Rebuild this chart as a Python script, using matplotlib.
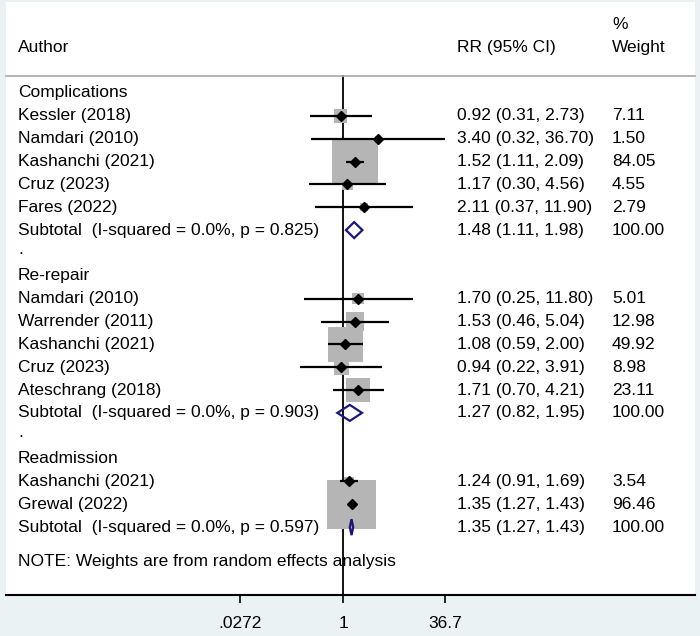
import numpy as np
import matplotlib
matplotlib.use("Agg")
import matplotlib.pyplot as plt
from matplotlib.patches import Polygon

plt.rcParams["font.family"] = ["Liberation Sans", "DejaVu Sans"]
plt.rcParams["font.size"] = 12.5

# subgroups
group_names = ["Complications", "Re-repair", "Readmission"]

comp_authors = ["Kessler (2018)", "Namdari (2010)", "Kashanchi (2021)", "Cruz (2023)", "Fares (2022)"]
comp_rr = [0.92, 3.40, 1.52, 1.17, 2.11]
comp_lo = [0.31, 0.32, 1.11, 0.30, 0.37]
comp_hi = [2.73, 36.70, 2.09, 4.56, 11.90]
comp_wt = [7.11, 1.50, 84.05, 4.55, 2.79]

rep_authors = ["Namdari (2010)", "Warrender (2011)", "Kashanchi (2021)", "Cruz (2023)", "Ateschrang (2018)"]
rep_rr = [1.70, 1.53, 1.08, 0.94, 1.71]
rep_lo = [0.25, 0.46, 0.59, 0.22, 0.70]
rep_hi = [11.80, 5.04, 2.00, 3.91, 4.21]
rep_wt = [5.01, 12.98, 49.92, 8.98, 23.11]

readm_authors = ["Kashanchi (2021)", "Grewal (2022)"]
readm_rr = [1.24, 1.35]
readm_lo = [0.91, 1.27]
readm_hi = [1.69, 1.43]
readm_wt = [3.54, 96.46]

sub_rr = [1.48, 1.27, 1.35]
sub_lo = [1.11, 0.82, 1.27]
sub_hi = [1.98, 1.95, 1.43]
sub_i2 = [0.0, 0.0, 0.0]
sub_p = [0.825, 0.903, 0.597]

xtick_vals = [0.0272, 1, 36.7]
xtick_labels = [".0272", "1", "36.7"]

groups = [
    (comp_authors, comp_rr, comp_lo, comp_hi, comp_wt),
    (rep_authors, rep_rr, rep_lo, rep_hi, rep_wt),
    (readm_authors, readm_rr, readm_lo, readm_hi, readm_wt),
]

W, H, DPI = 700, 636, 100
fig = plt.figure(figsize=(W / DPI, H / DPI), dpi=DPI, facecolor="#eaf2f3")
ax = fig.add_axes([6 / W, (H - 595) / H, (695 - 6) / W, (595 - 2) / H])
ax.set_facecolor("white")

# log scale: 1 at x=343 px, 65.5 px per decade
px_dec = 65.5
ax.set_xscale("log")
ax.set_xlim(10 ** ((6 - 343) / px_dec), 10 ** ((695 - 343) / px_dec))
row_px = 22.85
ax.set_ylim((595 - 93) / row_px, (2 - 93) / row_px)

col_author = 18 / W
col_rr = 457 / W
col_wt = 612 / W
tr = ax.get_yaxis_transform()  # x in axes coords, y in data
txt = ax.get_xaxis_transform()
xt = matplotlib.transforms.blended_transform_factory(fig.transFigure, ax.transData)

def label(x, y, s, **kw):
    ax.text(x, y, s, transform=xt, va="center", ha="left", color="black", **kw)

# header
label(col_author, -2.0, "Author")
label(col_rr, -2.0, "RR (95% CI)")
label(col_wt, -2.0, "Weight")
label(col_wt, -3.0, "%")
ax.plot([0, 1], [-0.75, -0.75], transform=tr, color="#a8a8a8", lw=1.2, clip_on=False)

# reference line at 1
ax.plot([1, 1], [-0.75, 22], color="black", lw=1.3, zorder=1)

box_scale = 5.0 * 72 / DPI  # side in points per sqrt(weight)
row = 0
for g, (names, rr, lo, hi, wt) in enumerate(groups):
    label(col_author, row, group_names[g])
    row += 1
    rows = np.arange(row, row + len(names))
    ax.scatter(rr, rows, s=(box_scale * np.sqrt(wt)) ** 2, marker="s",
               color="#b5b5b5", linewidths=0, zorder=2)
    ax.hlines(rows, lo, hi, color="black", lw=1.6, zorder=3)
    ax.plot(rr, rows, "D", color="black", ms=4.8, zorder=4)
    for i, r in enumerate(rows):
        label(col_author, r, names[i])
        label(col_rr, r, "%.2f (%.2f, %.2f)" % (rr[i], lo[i], hi[i]))
        label(col_wt, r, "%.2f" % wt[i])
    row += len(names)
    h = 0.35
    dia = Polygon([(sub_lo[g], row), (sub_rr[g], row - h), (sub_hi[g], row), (sub_rr[g], row + h)],
                  closed=True, facecolor="none", edgecolor="#1a1a72", lw=1.6, zorder=5)
    ax.add_patch(dia)
    label(col_author, row, "Subtotal  (I-squared = %.1f%%, p = %.3f)" % (sub_i2[g], sub_p[g]))
    label(col_rr, row, "%.2f (%.2f, %.2f)" % (sub_rr[g], sub_lo[g], sub_hi[g]))
    label(col_wt, row, "%.2f" % 100)
    row += 1
    if g < len(groups) - 1:
        label(col_author, row - 0.15, ".")
        row += 1

label(col_author, row + 0.5, "NOTE: Weights are from random effects analysis")

for s in ["left", "top", "right"]:
    ax.spines[s].set_visible(False)
ax.spines["bottom"].set_linewidth(1.5)
ax.set_yticks([])
ax.set_xticks(xtick_vals)
ax.set_xticklabels(xtick_labels)
ax.minorticks_off()
ax.tick_params(axis="x", direction="out", length=6, width=1.2, pad=9, labelsize=12.5)

fig.savefig("out.png", dpi=DPI, facecolor=fig.get_facecolor())
